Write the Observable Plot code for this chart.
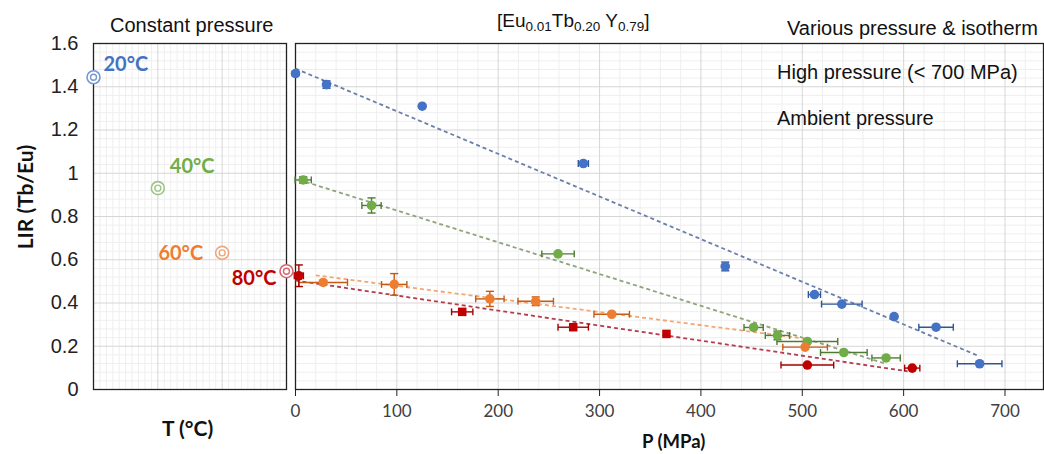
<!DOCTYPE html>
<html><head><meta charset="utf-8">
<script src="https://cdn.jsdelivr.net/npm/d3@7"></script>
<script src="https://cdn.jsdelivr.net/npm/@observablehq/plot@0.6"></script>
<style>
body{margin:0;background:#fff}
#wrap{position:relative;width:1044px;height:454px;overflow:hidden;font-family:"Liberation Sans",Arial,sans-serif;color:#111}
.t{position:absolute;white-space:nowrap;font-size:20px;line-height:1}
.b{font-family:Lato,"Open Sans",sans-serif;font-weight:bold;font-size:21px}
#left,#right{position:absolute;top:0}
#left{left:0}#right{left:290px}
sub{font-size:13.5px;vertical-align:-4px;line-height:0}
</style></head>
<body><div id="wrap">
<div id="left"></div><div id="right"></div>
<div class="t" style="left:110px;top:15px">Constant pressure</div>
<div class="t" style="left:497px;top:11px;font-size:19px">[Eu<sub>0.01</sub>Tb<sub>0.20</sub> Y<sub>0.79</sub>]</div>
<div class="t" style="left:787px;top:18px">Various pressure &amp; isotherm</div>
<div class="t" style="left:777px;top:62px">High pressure (&lt; 700 MPa)</div>
<div class="t" style="left:777px;top:108px">Ambient pressure</div>
<div class="t b" style="left:162px;top:417px">T (°C)</div>
<div class="t b" style="left:642px;top:432px;font-size:18.5px">P (MPa)</div>
<div class="t b" style="left:24px;top:197px;transform:translate(-50%,-50%) rotate(-90deg)">LIR (Tb/Eu)</div>
</div>
<script>
// ---- data ----
const seriesNames = ["20°C", "40°C", "60°C", "80°C"];
const lirTicks = [0, 0.2, 0.4, 0.6, 0.8, 1.0, 1.2, 1.4, 1.6];
const pTicks = [0, 100, 200, 300, 400, 500, 600, 700];

// constant pressure (ambient)
const tempC = [20, 40, 60, 80];
const lirConst = [1.444, 0.931, 0.632, 0.547];

// various pressure, isotherms
const p20 = [0, 30.6, 125, 284, 424, 512, 539, 590.6, 632, 675];
const lir20 = [1.461, 1.41, 1.31, 1.045, 0.569, 0.439, 0.395, 0.337, 0.288, 0.119];
const pErr20 = [2, 0, 0, 5, 0, 6, 20, 0, 17, 22];
const lirErr20 = [0.01, 0.017, 0, 0, 0.02, 0, 0, 0, 0, 0];

const p40 = [7.6, 75, 259, 452, 475.5, 505, 541, 582.7];
const lir40 = [0.969, 0.851, 0.627, 0.287, 0.250, 0.222, 0.171, 0.146];
const pErr40 = [8, 9.5, 16, 9.5, 12, 30, 23, 14];
const lirErr40 = [0.015, 0.035, 0, 0, 0.02, 0, 0, 0];

const p60 = [27.3, 97.4, 191.8, 237, 312, 502.8];
const lir60 = [0.495, 0.486, 0.419, 0.408, 0.348, 0.196];
const pErr60 = [24, 12.5, 14, 17.5, 17.5, 22];
const lirErr60 = [0.01, 0.05, 0.035, 0.02, 0, 0];

const p80 = [3.3, 164.5, 274, 366, 505, 608.5];
const lir80 = [0.526, 0.359, 0.288, 0.257, 0.113, 0.099];
const pErr80 = [4.5, 10.5, 15, 0, 26, 7.5];
const lirErr80 = [0.05, 0, 0, 0, 0, 0];

// dashed trend lines (start/end)
const trendP0 = [0, 10, 20, 0];
const trendL0 = [1.484, 0.96, 0.528, 0.504];
const trendP1 = [673, 583, 503, 604];
const trendL1 = [0.157, 0.118, 0.235, 0.084];

// ---- styling ----
const dotCol = {"20°C": "#4472C4", "40°C": "#70AD47", "60°C": "#ED7D31", "80°C": "#C00000"};
const errCol = {"20°C": "#2F5597", "40°C": "#4E7A33", "60°C": "#C55A11", "80°C": "#A00000"};
const trendCol = {"20°C": "#6a80ab", "40°C": "#8fa37c", "60°C": "#f2a673", "80°C": "#b33c4e"};
const ringCol = {"20°C": "#7898d0", "40°C": "#9cc486", "60°C": "#f0a57a", "80°C": "#d86670"};

function mk(name, P, L, PE, LE) { return P.map((p, i) => ({name, P: p, LIR: L[i], pe: PE[i], le: LE[i], i})); }
const pts = [
  ...mk(seriesNames[0], p20, lir20, pErr20, lirErr20),
  ...mk(seriesNames[1], p40, lir40, pErr40, lirErr40),
  ...mk(seriesNames[2], p60, lir60, pErr60, lirErr60),
  ...mk(seriesNames[3], p80, lir80, pErr80, lirErr80)
];
const trends = seriesNames.map((n, i) => ({name: n, p0: trendP0[i], l0: trendL0[i], p1: trendP1[i], l1: trendL1[i]}));
const constPts = tempC.map((t, i) => ({name: seriesNames[i], T: t, LIR: lirConst[i]}));

const minorL = d3.range(0, 1.6001, 0.04).filter(v => Math.abs(v / 0.2 - Math.round(v / 0.2)) > 1e-6);
const minorP = d3.range(20, 740, 20).filter(v => v % 100 !== 0);
const minorT = d3.range(22, 80, 2).filter(v => v % 20 !== 0);
const majorT = [40, 60];

const fmt = d => String(+d.toFixed(1));

// ---- left panel ----
const labelOff = [
  {dx: 10, dy: -13, anchor: "start"},
  {dx: 12, dy: -22, anchor: "start"},
  {dx: -19, dy: 1, anchor: "end"},
  {dx: -10, dy: 7, anchor: "end"}
];
const left = Plot.plot({
  width: 290, height: 454, marginLeft: 93, marginRight: 4, marginTop: 43, marginBottom: 65,
  x: {domain: [20, 80], axis: null},
  y: {domain: [0, 1.6], axis: null},
  color: {type: "identity"},
  style: {fontFamily: "Liberation Sans, Arial, sans-serif", fontSize: "20px", overflow: "visible", background: "transparent"},
  marks: [
    Plot.ruleY(minorL, {stroke: "#efefef", strokeWidth: 1}),
    Plot.ruleX(minorT, {stroke: "#efefef", strokeWidth: 1}),
    Plot.ruleY(lirTicks, {stroke: "#d6d6d6", strokeWidth: 1}),
    Plot.ruleX(majorT, {stroke: "#d6d6d6", strokeWidth: 1}),
    Plot.frame({stroke: "#222", strokeWidth: 1.3}),
    Plot.axisY(lirTicks, {tickSize: 0, tickPadding: 15, tickFormat: fmt, label: null, fill: "#222", fontSize: 20}),
    Plot.dot(constPts, {x: "T", y: "LIR", r: 6.5, stroke: d => ringCol[d.name], strokeWidth: 1.6, fill: "white"}),
    Plot.dot(constPts, {x: "T", y: "LIR", r: 3, stroke: d => ringCol[d.name], strokeWidth: 1.4, fill: "none"}),
    ...constPts.map((d, i) => Plot.text([d], {x: "T", y: "LIR", text: "name", fill: dotCol[d.name],
      dx: labelOff[i].dx, dy: labelOff[i].dy, textAnchor: labelOff[i].anchor,
      fontSize: 20, fontWeight: "bold", fontFamily: "Lato, Open Sans, sans-serif"}))
  ]
});
document.getElementById("left").appendChild(left);

// ---- right panel ----
const cap = 0.016, capP = 4;
const hx = pts.filter(d => d.pe > 0), vy = pts.filter(d => d.le > 0);
const right = Plot.plot({
  width: 754, height: 454, marginLeft: 5, marginRight: 1, marginTop: 43, marginBottom: 65,
  x: {domain: [0, 738], axis: null},
  y: {domain: [0, 1.6], axis: null},
  color: {type: "identity"},
  style: {fontFamily: "Lato, Open Sans, sans-serif", fontSize: "17px", overflow: "visible", background: "transparent"},
  marks: [
    Plot.ruleY(minorL, {stroke: "#efefef", strokeWidth: 1}),
    Plot.ruleX(minorP, {stroke: "#efefef", strokeWidth: 1}),
    Plot.ruleY(lirTicks, {stroke: "#d6d6d6", strokeWidth: 1}),
    Plot.ruleX(pTicks.slice(1), {stroke: "#d6d6d6", strokeWidth: 1}),
    Plot.frame({stroke: "#222", strokeWidth: 1.3}),
    Plot.axisX(pTicks, {tickSize: 7, tickPadding: 8, label: null, fill: "#404040", stroke: "#222", fontSize: 17}),
    Plot.link(trends, {x1: "p0", y1: "l0", x2: "p1", y2: "l1", stroke: d => trendCol[d.name], strokeWidth: 1.8, strokeDasharray: "4,3"}),
    Plot.link(hx, {x1: d => d.P - d.pe, x2: d => d.P + d.pe, y1: "LIR", y2: "LIR", stroke: d => errCol[d.name], strokeWidth: 1.4}),
    Plot.link(hx, {x1: d => d.P - d.pe, x2: d => d.P - d.pe, y1: d => d.LIR - cap, y2: d => d.LIR + cap, stroke: d => errCol[d.name], strokeWidth: 1.4}),
    Plot.link(hx, {x1: d => d.P + d.pe, x2: d => d.P + d.pe, y1: d => d.LIR - cap, y2: d => d.LIR + cap, stroke: d => errCol[d.name], strokeWidth: 1.4}),
    Plot.link(vy, {x1: "P", x2: "P", y1: d => d.LIR - d.le, y2: d => d.LIR + d.le, stroke: d => errCol[d.name], strokeWidth: 1.4}),
    Plot.link(vy, {x1: d => d.P - capP, x2: d => d.P + capP, y1: d => d.LIR - d.le, y2: d => d.LIR - d.le, stroke: d => errCol[d.name], strokeWidth: 1.4}),
    Plot.link(vy, {x1: d => d.P - capP, x2: d => d.P + capP, y1: d => d.LIR + d.le, y2: d => d.LIR + d.le, stroke: d => errCol[d.name], strokeWidth: 1.4}),
    Plot.dot(pts.filter(d => !(d.name === "80°C" && d.i >= 1 && d.i <= 3)), {x: "P", y: "LIR", r: 4.8, fill: d => dotCol[d.name]}),
    Plot.dot(pts.filter(d => d.name === "80°C" && d.i >= 1 && d.i <= 3), {x: "P", y: "LIR", r: 4.8, symbol: "square", fill: d => dotCol[d.name]})
  ]
});
document.getElementById("right").appendChild(right);
</script>
</body></html>
